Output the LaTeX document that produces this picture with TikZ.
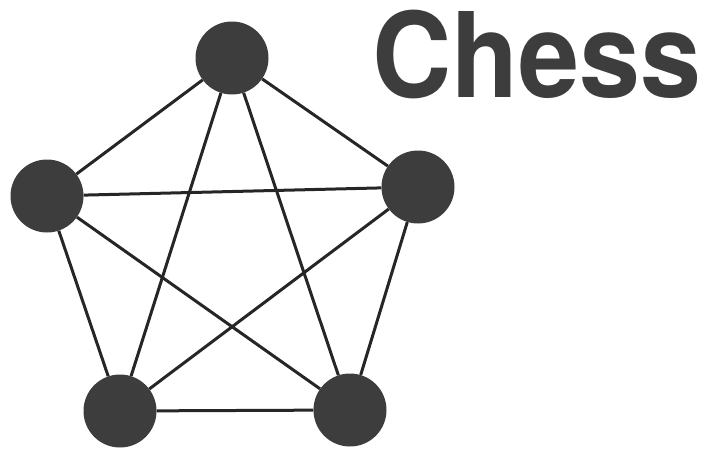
\documentclass[tikz,border=0pt]{standalone}
\usepackage{fontspec}
\setsansfont{TeX Gyre Heros}
\definecolor{piece}{gray}{0.24}
\tikzset{
  vertex/.style={circle,fill=piece,minimum size=73pt,inner sep=0pt},
  edge/.style={line width=3pt,black!85}
}

\begin{document}
\begin{tikzpicture}[x=1pt,y=-1pt]
  \useasboundingbox (0,0) rectangle (716,448);

  \node[vertex] (top) at (232,58) {};
  \node[vertex] (left) at (47,196) {};
  \node[vertex] (right) at (418,187) {};
  \node[vertex] (botleft) at (120,411) {};
  \node[vertex] (botright) at (350,410) {};

  \draw[edge] (top) -- (left);
  \draw[edge] (top) -- (right);
  \draw[edge] (top) -- (botleft);
  \draw[edge] (top) -- (botright);
  \draw[edge] (left) -- (right);
  \draw[edge] (left) -- (botleft);
  \draw[edge] (left) -- (botright);
  \draw[edge] (right) -- (botleft);
  \draw[edge] (right) -- (botright);
  \draw[edge] (botleft) -- (botright);

  \node[anchor=base west,inner sep=0pt,text=piece,xscale=0.93,
        font=\sffamily\bfseries\fontsize{118}{118}\selectfont] (title) at (372,97)
    {Chess};
\end{tikzpicture}
\end{document}
